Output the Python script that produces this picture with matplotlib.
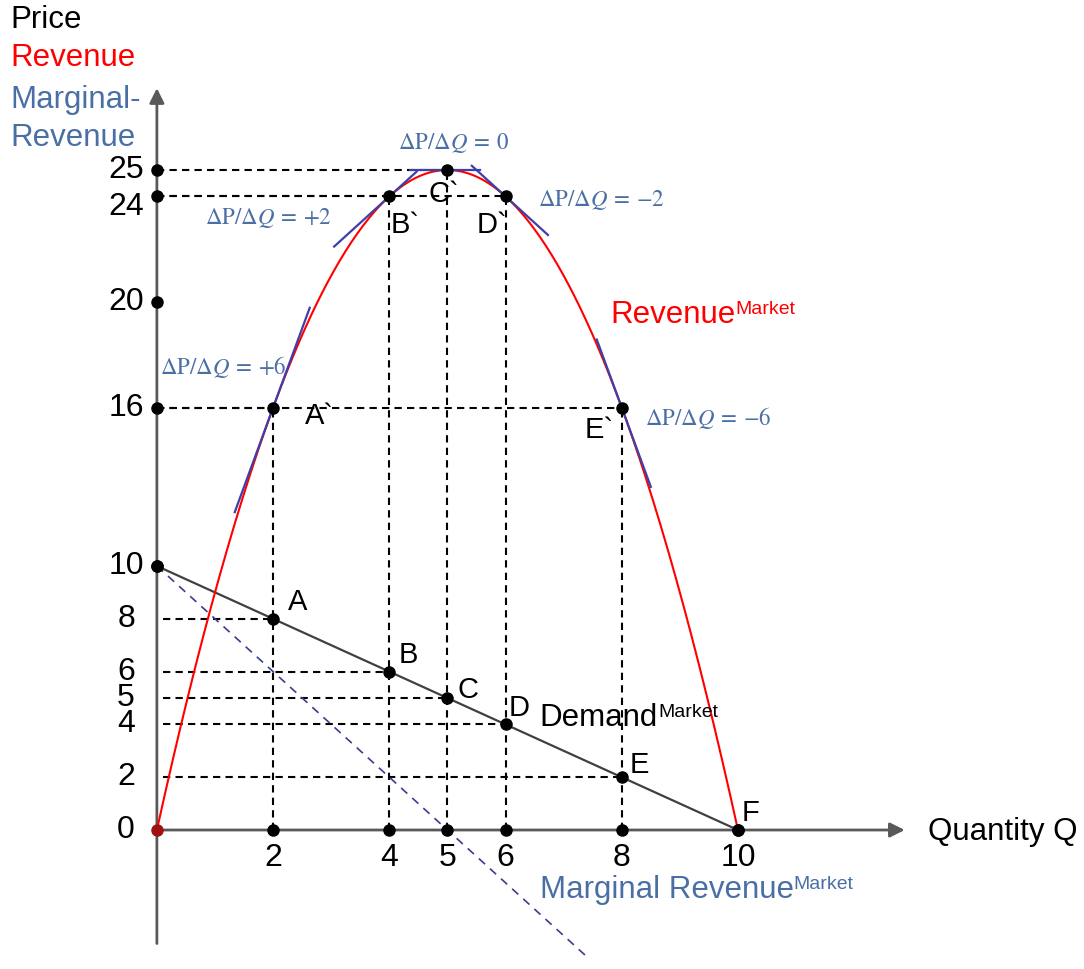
import numpy as np
import matplotlib
matplotlib.use("Agg")
import matplotlib.pyplot as plt

plt.rcParams['font.family'] = ['Liberation Sans', 'DejaVu Sans']

# data
quantity = [0, 2, 4, 5, 6, 8, 10]
price = [10, 8, 6, 5, 4, 2, 0]
revenue = [0, 16, 24, 25, 24, 16, 0]
point_names = ["", "A", "B", "C", "D", "E", "F"]
rev_names = ["", "A`", "B`", "C`", "D`", "E`", ""]

mr_q = [0, 2, 4, 5, 7.45]
mr_vals = [10, 6, 2, 0, -4.9]

tangent_q = [2, 4, 5, 6, 8]
tangent_slope = [6, 2, 0, -2, -6]
tangent_left = [0.66, 0.95, 0.65, 0.58, 0.43]
tangent_right = [0.63, 0.47, 0.56, 0.73, 0.50]
slope_labels = [r"$\Delta\mathrm{P}/\Delta Q\:=\:{+}6$", r"$\Delta\mathrm{P}/\Delta Q\:=\:{+}2$",
                r"$\Delta\mathrm{P}/\Delta Q\:=\:0$", r"$\Delta\mathrm{P}/\Delta Q\:=\:{-}2$",
                r"$\Delta\mathrm{P}/\Delta Q\:=\:{-}6$"]

y_ticks = [25, 24, 20, 16, 10, 8, 6, 5, 4, 2, 0]
x_ticks = [2, 4, 5, 6, 8, 10]

RED = "#ff0000"
BLUE_TXT = "#4a6fa5"
TAN = "#3f3fa8"
GRAY = "#595959"
DASH = (0, (3.5, 2.5))

fig = plt.figure(figsize=(10.84, 9.69), dpi=100)
ax = fig.add_axes([0, 0, 1, 1])
ax.set_xlim(-2.70, 15.955)
ax.set_ylim(-5.265, 31.44)
ax.axis("off")

# axes with arrows
ax.annotate("", xy=(12.87, 0), xytext=(0, 0),
            arrowprops=dict(arrowstyle="-|>", color=GRAY, lw=2, mutation_scale=22, shrinkA=0, shrinkB=0))
ax.annotate("", xy=(0, 28.1), xytext=(0, -4.3),
            arrowprops=dict(arrowstyle="-|>", color=GRAY, lw=2, mutation_scale=22, shrinkA=0, shrinkB=0))

# guide lines
for q, p, r in zip(quantity[1:-1], price[1:-1], revenue[1:-1]):
    ax.plot([q, q], [0, r], color="black", lw=1.5, ls=DASH, zorder=2)
    ax.plot([0.1, q], [p, p], color="black", lw=1.5, ls=DASH, zorder=2)
    ax.plot([0, q], [r, r], color="black", lw=1.5, ls=DASH, zorder=2)

# demand
ax.plot(quantity, price, color="#404040", lw=1.6, zorder=3)

# marginal revenue
ax.plot(mr_q, mr_vals, color="#3c3c90", lw=1.2, ls=(0, (5, 4)), zorder=3)

# revenue curve through the read points
coef = np.polyfit(quantity, revenue, 2)
qq = np.linspace(0, 10, 300)
ax.plot(qq, np.polyval(coef, qq), color=RED, lw=1.5, zorder=4)

# tangents
for q, s, l, rr in zip(tangent_q, tangent_slope, tangent_left, tangent_right):
    r0 = revenue[quantity.index(q)]
    xs = np.array([q - l, q + rr])
    ax.plot(xs, r0 + s * (xs - q), color=TAN, lw=1.6, zorder=5)

# dots
ax.plot(quantity, price, "o", color="black", ms=8, zorder=6)
ax.plot(quantity[1:-1], revenue[1:-1], "o", color="black", ms=8, zorder=6)
ax.plot(x_ticks, [0] * len(x_ticks), "o", color="black", ms=8, zorder=6)
ax.plot([0, 0, 0, 0, 0], [25, 24, 20, 16, 10], "o", color="black", ms=8, zorder=6)
ax.plot([0], [0], "o", color="#a01010", ms=8, zorder=7)

# tick labels
for v in y_ticks:
    yy = 23.6 if v == 24 else v
    ax.text(-0.53, yy, str(v), ha="center", va="center", fontsize=23)
for v in x_ticks:
    ax.text(v, -1.06, str(v), ha="center", va="center", fontsize=23)

# point labels
pt_off = [(0, 0), (0.43, 0.64), (0.32, 0.63), (0.35, 0.30), (0.23, 0.62), (0.31, 0.46), (0.22, 0.64)]
for q, p, n, (dx, dy) in zip(quantity, price, point_names, pt_off):
    if n:
        ax.text(q + dx, p + dy, n, ha="center", va="center", fontsize=21)
rev_off = [(0, 0), (0.79, -0.3), (0.27, -1.1), (-0.06, -0.9), (-0.23, -1.1), (-0.38, -0.85), (0, 0)]
for q, r, n, (dx, dy) in zip(quantity, revenue, rev_names, rev_off):
    if n:
        ax.text(q + dx, r + dy, n, ha="center", va="center", fontsize=21)

# slope labels
slope_pos = [(0.05, 17.54, "left"), (0.83, 23.18, "left"), (5.11, 26.02, "center"),
             (6.56, 23.86, "left"), (8.40, 15.6, "left")]
for lab, (x, y, ha) in zip(slope_labels, slope_pos):
    ax.text(x, y, lab, ha=ha, va="center", fontsize=16.5, color=BLUE_TXT, math_fontfamily="stix")

# axis titles
ax.text(-2.53, 30.68, "Price", ha="left", va="center", fontsize=22.5, color="black")
ax.text(-2.53, 29.24, "Revenue", ha="left", va="center", fontsize=22.5, color=RED)
ax.text(-2.53, 27.65, "Marginal-", ha="left", va="center", fontsize=22.5, color=BLUE_TXT)
ax.text(-2.53, 26.21, "Revenue", ha="left", va="center", fontsize=22.5, color=BLUE_TXT)
ax.text(13.27, -0.08, "Quantity Q", ha="left", va="center", fontsize=22.5, color="black")


def label_market(x, y, main, color):
    t = ax.text(x, y, main, ha="left", va="center", fontsize=22.5, color=color, zorder=8)
    ax.annotate("Market", xy=(1.0, 0.98), xycoords=t, ha="left", va="top",
                fontsize=14, color=color, zorder=8)


label_market(7.80, 19.5, "Revenue", RED)
label_market(6.59, 4.24, "Demand", "black")
label_market(6.59, -2.27, "Marginal Revenue", BLUE_TXT)

fig.savefig("out.png", dpi=100)
